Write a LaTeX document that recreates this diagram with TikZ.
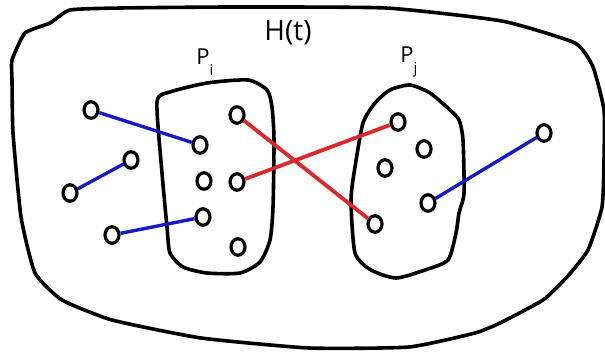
\documentclass[tikz,border=0pt]{standalone}
\usepackage{fontspec}
\setmainfont{Open Sans}
\usetikzlibrary{shapes.geometric}

\newcommand{\lowsub}[1]{\raisebox{-0.5em}{\fontsize{15}{15}\selectfont #1}}

\begin{document}
\begin{tikzpicture}[
    x=1pt, y=-1pt,
    pt/.style={draw, ellipse, line width=3.2pt, minimum width=14pt, minimum height=16.5pt, inner sep=0pt, fill=white},
    region/.style={draw, line width=3.6pt, line join=round},
    blueedge/.style={line width=3.4pt, draw={rgb,255:red,25;green,25;blue,200}},
    rededge/.style={line width=3.8pt, draw={rgb,255:red,220;green,40;blue,45}},
    lbl/.style={inner sep=0pt}
  ]
  \useasboundingbox (0,0) rectangle (605,356);

  % outer set H(t)
  \draw[region] plot[smooth cycle, tension=0.3] coordinates {
    (70,10) (120,8) (232,7) (386,8) (502,21) (575,43) (593,67) (604,110)
    (604,160) (602,207) (588,250) (567,277) (543,300) (500,323) (475,333)
    (409,347) (309,348) (201,338) (112,320) (62,300) (35,273) (21,217)
    (13,133) (12,80) (12,60) (25,33) (50,23)};

  % part P_i
  \draw[region] plot[smooth cycle, tension=0.4] coordinates {
    (157,102) (170,92) (207,83) (248,80) (267,90) (272,107) (274,140)
    (273,207) (270,240) (260,262) (240,273) (207,273) (183,267) (170,253)
    (167,227) (162,173)};

  % part P_j
  \draw[region] plot[smooth cycle, tension=0.4] coordinates {
    (410,85) (430,93) (450,110) (459,120) (463,140) (464,193) (459,213)
    (456,233) (448,260) (425,270) (396,278) (371,270) (355,253) (351,200)
    (355,167) (363,123) (375,103) (390,90)};

  % labels
  \node[lbl, font=\fontsize{28}{30}\selectfont] (ht) at (288,33) {H(t)};
  \node[lbl, font=\fontsize{22}{24}\selectfont] (lpi) at (205,62) {P\lowsub{i}};
  \node[lbl, font=\fontsize{22}{24}\selectfont] (lpj) at (409,62) {P\lowsub{j}};

  % vertices inside P_i
  \node[pt] (pi1) at (237,115) {};
  \node[pt] (pi2) at (200,145) {};
  \node[pt] (pi3) at (204,181) {};
  \node[pt] (pi4) at (237,182) {};
  \node[pt] (pi5) at (203,217) {};
  \node[pt] (pi6) at (238,247) {};

  % vertices inside P_j
  \node[pt] (pj1) at (398,122) {};
  \node[pt] (pj2) at (424,149) {};
  \node[pt] (pj3) at (385,168) {};
  \node[pt] (pj4) at (428,203) {};
  \node[pt] (pj5) at (375,224) {};

  % vertices outside
  \node[pt] (u1) at (91,110) {};
  \node[pt] (u2) at (131,160) {};
  \node[pt] (u3) at (70,193) {};
  \node[pt] (u4) at (112,235) {};
  \node[pt] (u5) at (544,133) {};

  % edges leaving the parts
  \draw[blueedge] (u1) -- (pi2);
  \draw[blueedge] (u3) -- (u2);
  \draw[blueedge] (u4) -- (pi5);
  \draw[blueedge] (u5) -- (pj4);

  % edges between P_i and P_j
  \draw[rededge] (pi1) -- (pj5);
  \draw[rededge] (pi4) -- (pj1);

\end{tikzpicture}
\end{document}
